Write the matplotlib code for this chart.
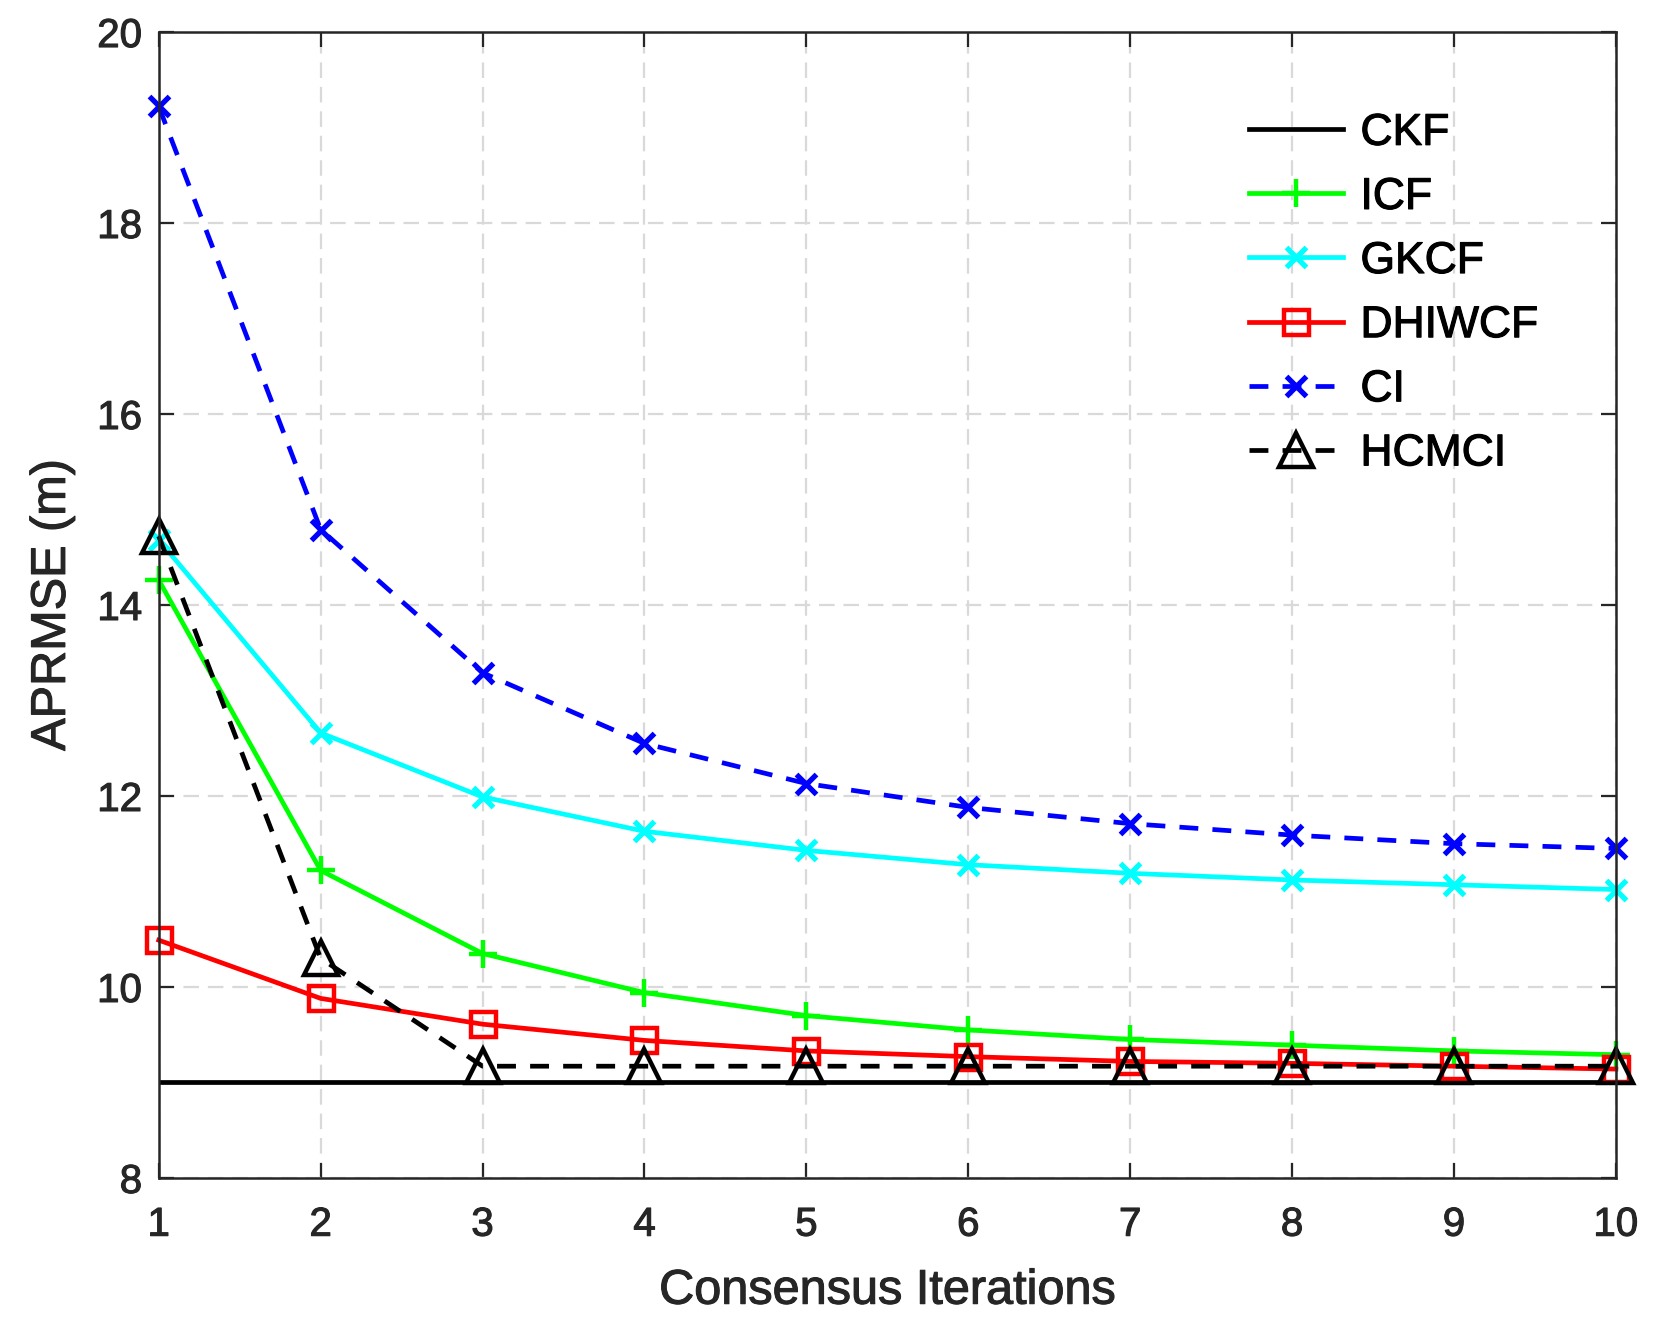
import matplotlib.pyplot as plt
import matplotlib.patheffects as pe
import numpy as np

plt.rcParams['font.family'] = ['Liberation Sans', 'DejaVu Sans']

# Data
iterations = np.arange(1, 11)
ckf = [9.0] * 10
icf = [14.26, 11.22, 10.35, 9.94, 9.70, 9.55, 9.45, 9.39, 9.33, 9.29]
gkcf = [14.68, 12.66, 11.99, 11.63, 11.43, 11.28, 11.19, 11.12, 11.07, 11.02]
dhiwcf = [10.49, 9.88, 9.61, 9.44, 9.33, 9.27, 9.22, 9.20, 9.17, 9.14]
ci = [19.22, 14.79, 13.29, 12.55, 12.13, 11.88, 11.71, 11.59, 11.50, 11.45]
hcmci = [14.72, 10.30, 9.17, 9.17, 9.17, 9.17, 9.17, 9.17, 9.17, 9.17]

txt = '#262626'

fig = plt.figure(figsize=(16.59, 13.34), dpi=100)
ax = fig.add_axes([0.0957, 0.117, 0.8783, 0.859])

lw = 3.4
ax.plot(iterations, ckf, '-', color='black', lw=lw, label='CKF')
ax.plot(iterations, icf, '-', color='#00ff00', lw=lw, marker='+', ms=20, mew=3.2,
        clip_on=False, label='ICF')
ax.plot(iterations, gkcf, '-', color='cyan', lw=lw, marker='x', ms=15, mew=3.8,
        clip_on=False, label='GKCF')
ax.plot(iterations, dhiwcf, '-', color='red', lw=lw, marker='s', ms=18, mew=3.2,
        mfc='none', clip_on=False, label='DHIWCF')
ax.plot(iterations, ci, '--', color='blue', lw=lw, marker='x', ms=15, mew=3.8,
        dashes=(4, 3), clip_on=False, label='CI')
ax.plot(iterations, hcmci, '--', color='black', lw=lw, marker='^', ms=24, mew=3.2,
        mfc='none', dashes=(4, 3), clip_on=False, label='HCMCI')

ax.set_xlim(1, 10)
ax.set_ylim(8, 20)
ax.set_xticks(iterations)
ax.set_yticks(np.arange(8, 21, 2))
ax.grid(True, ls=(0, (7, 4)), color='#d9d9d9', lw=1.6)
ax.tick_params(direction='in', length=11, width=1.6, top=True, right=True,
               labelsize=29, colors=txt)
ax.tick_params(axis='x', pad=20)
ax.tick_params(axis='y', pad=12)
for s in ax.spines.values():
    s.set_color(txt)
    s.set_linewidth(1.8)

# slightly heavier text, like the MATLAB export
thick = [pe.withStroke(linewidth=0.8, foreground=txt)]
for t in ax.get_xticklabels() + ax.get_yticklabels():
    t.set_path_effects(thick)

ax.set_xlabel('Consensus Iterations', fontsize=35, color=txt, labelpad=18,
              path_effects=thick)
ax.set_ylabel('APRMSE (m)', fontsize=35, color=txt, labelpad=16, path_effects=thick)

leg = ax.legend(loc='upper right', frameon=False, fontsize=32, handlelength=2.1,
                labelspacing=0.52, handletextpad=0.4, borderaxespad=0,
                bbox_to_anchor=(0.959, 0.945))
for t in leg.get_texts():
    t.set_color('black')
    t.set_path_effects([pe.withStroke(linewidth=0.8, foreground='black')])

fig.savefig('out.png', dpi=100)
